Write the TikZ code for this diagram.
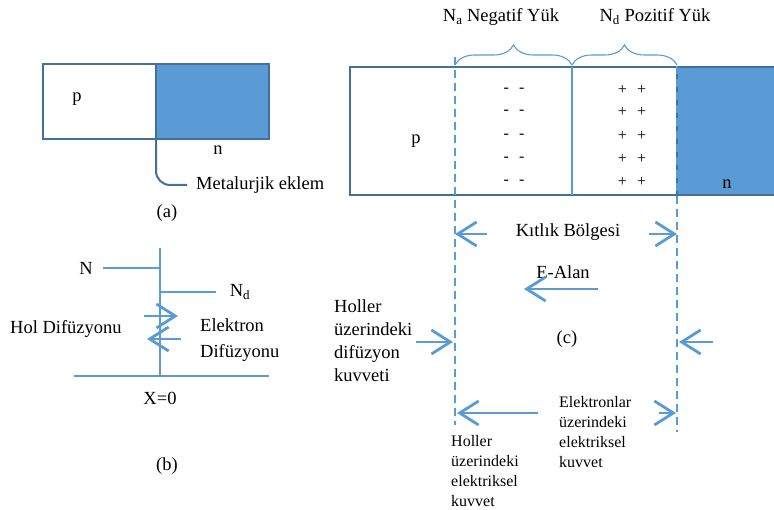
\documentclass[tikz,border=0pt]{standalone}
\usepackage{fontspec}
\setmainfont{Liberation Serif}
\usepackage{xcolor}
\usepackage{tikz}
\usetikzlibrary{arrows.meta,positioning,calc,decorations.pathreplacing}
\definecolor{JBlue}{HTML}{5B9BD5}
\definecolor{JDark}{HTML}{41719C}

\begin{document}
\begin{tikzpicture}[x=1pt, y=-1pt,
        lbl/.style={font=\fontsize{18.5}{23}\selectfont, inner sep=0pt, align=left},
        sml/.style={font=\fontsize{16}{19.7}\selectfont, inner sep=0pt, align=left},
        chg/.style={font=\fontsize{16}{16}\selectfont, inner sep=0pt},
        region/.style={draw=JDark, line width=2.8pt, inner sep=0pt, outer sep=0pt,
                       anchor=north west, minimum width=#1, minimum height=75},
        wire/.style={JBlue, line width=2.8pt},
        arr/.style={JBlue, line width=2.8pt, -{Straight Barb[length=19pt,width=24pt]}},
        bound/.style={JBlue, line width=2.8pt, dash pattern=on 8pt off 5pt},
        brc/.style={JBlue, line width=1.1pt, decorate,
                    decoration={brace, amplitude=20pt}},
      ]
      \useasboundingbox (0,0) rectangle (774,510);
      % (a) p-n blocks
      \node[region=113, fill=white] (pa) at (43,64) {};
      \node[region=113, fill=JBlue] (na) at (156,64) {};
      \node[lbl] (pA) at (77,99) {p};
      \node[lbl] (nA) at (218,150) {n};
      \node[lbl, anchor=west] (eklem) at (196,185) {Metalurjik eklem};
      \draw[JDark, line width=2pt, rounded corners=14pt]
        (pa.south east) |- ([xshift=-9pt]eklem.west);
      \node[lbl] (capA) at (167,213) {(a)};
      % (b) doping profile
      \coordinate (top) at (160,248);
      \coordinate (x0) at (160,376);
      \coordinate (baseL) at (74,376);
      \coordinate (baseR) at (269,376);
      \node[lbl] (nB) at (86,268) {N};
      \node[lbl] (ndB) at (240,292) {N\textsubscript{d}};
      \draw[wire] (top) -- (x0);
      \draw[wire] (baseL) -- (baseR);
      \draw[wire] ([xshift=10pt]nB.east) -- (nB -| top);
      \draw[wire] (ndB.west -| top) -- ([xshift=-14pt]ndB.west);
      \coordinate (elS) at (144,316);
      \coordinate (elE) at (178,316);
      \coordinate (hoS) at (181,339);
      \coordinate (hoE) at (147,339);
      \draw[arr] (elS) -- (elE);
      \draw[arr] (hoS) -- (hoE);
      \node[lbl, anchor=west] (holB) at (10,329) {Hol Difüzyonu};
      \node[lbl, anchor=west] (elB1) at (200,325) {Elektron};
      \node[lbl, anchor=west] (elB2) at (200,353) {Difüzyonu};
      \node[lbl] (x0lbl) at (160,398) {X=0};
      \node[lbl] (capB) at (167,466) {(b)};
      % (c) depletion region
      \node[region=440, minimum height=128, fill=white] (pc) at (350,67) {};
      \node[region=113, minimum height=128, fill=JBlue] (nc) at (677,67) {};
      \coordinate (mj) at (572,67);
      \draw[JBlue, line width=1.6pt] (mj) -- (mj |- pc.south);
      \coordinate (dl) at (455,57);
      \coordinate (dlb) at (455,425);
      \coordinate (dr) at (677,66);
      \coordinate (drb) at (677,432);
      \draw[bound] (dl) -- (dlb);
      \draw[bound] (dr) -- (drb);
      \coordinate (bL) at (455,65);
      \coordinate (bM) at (572,65);
      \coordinate (bR) at (677,65);
      \draw[brc] (bL) -- (bM);
      \draw[brc] (bM) -- (bR);
      \node[lbl] (naLbl) at (501,17) {N\textsubscript{a} Negatif Yük};
      \node[lbl] (ndLbl) at (655,17) {N\textsubscript{d} Pozitif Yük};
      \foreach \r in {90,112,136,159,182} {
        \node[chg] (neg\r) at (514,\r) {-\hspace{10pt}-};
        \node[chg] (pos\r) at (632,\r) {+\hspace{10pt}+};
      }
      \node[lbl] (pC) at (416,141) {p};
      \node[lbl] (nC) at (727,184) {n};
      \node[lbl] (kb) at (568,232) {Kıtlık Bölgesi};
      \draw[arr] ([xshift=-29pt,yshift=-2pt]kb.west) -- ([yshift=-2pt]kb.west -| dl);
      \draw[arr] ([xshift=29pt,yshift=-2pt]kb.east) -- ([yshift=-2pt]kb.east -| dr);
      \node[lbl] (ealan) at (563,272) {E-Alan};
      \coordinate (eaS) at (598,289);
      \coordinate (eaE) at (524,289);
      \draw[arr] (eaS) -- (eaE);
      \node[lbl, anchor=west] (hdif) at (334,340.5)
        {Holler\\üzerindeki\\difüzyon\\kuvveti};
      \coordinate (hdS) at (416,342);
      \coordinate (hdE) at (453,342);
      \draw[arr] (hdS) -- (hdE);
      \coordinate (edS) at (713,342);
      \coordinate (edE) at (679,342);
      \draw[arr] (edS) -- (edE);
      \node[lbl] (capC) at (567,339) {(c)};
      \coordinate (hfS) at (538,413);
      \coordinate (hfE) at (457,413);
      \draw[arr] (hfS) -- (hfE);
      \coordinate (efS) at (659,413);
      \coordinate (efE) at (676,413);
      \draw[arr] (efS) -- (efE);
      \node[sml, anchor=west] (efLbl) at (559,432)
        {Elektronlar\\üzerindeki\\elektriksel\\kuvvet};
      \node[sml, anchor=west] (hfLbl) at (451,471)
        {Holler\\üzerindeki\\elektriksel\\kuvvet};
\end{tikzpicture}
\end{document}
